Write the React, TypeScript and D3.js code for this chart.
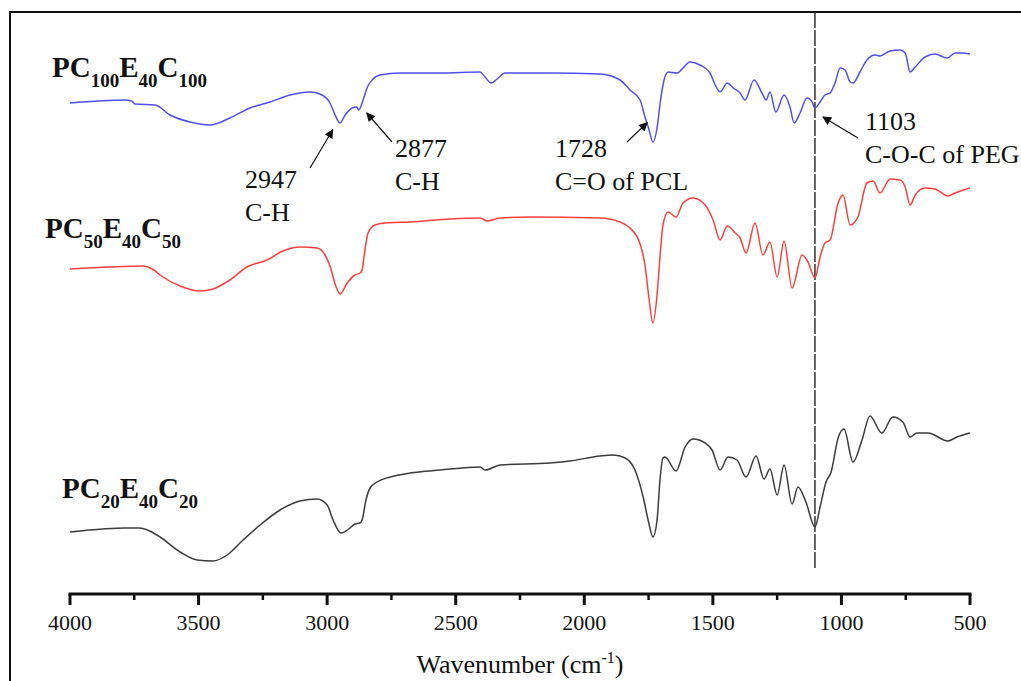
import React from "react";
import * as d3 from "d3";

// Wavenumber (cm-1) and transmittance (a.u., stacked)
const blueWn = [4000,3786,3760,3747,3669,3611,3533,3455,3378,3300,3222,3144,3067,3028,2989,2969,2950,2930,2903,2885,2877,2860,2845,2825,2794,2716,2561,2405,2386,2362,2339,2308,2133,1939,1861,1822,1783,1764,1750,1733,1717,1705,1694,1674,1639,1616,1589,1550,1511,1491,1472,1444,1421,1394,1375,1340,1309,1293,1278,1255,1223,1200,1184,1161,1134,1114,1103,1083,1064,1044,1025,1005,986,966,955,928,901,869,850,811,772,752,733,713,675,636,589,558,531,500];
const blueT = [49.7,50.0,49.9,49.6,49.5,48.5,47.8,47.5,48.2,49.2,49.8,50.5,50.8,50.6,49.7,48.5,47.7,48.5,49.2,49.3,49.0,50.0,51.2,52.0,52.5,52.7,52.7,52.8,52.3,51.7,52.1,52.7,52.7,52.6,52.0,51.0,50.0,48.3,47.2,45.8,47.2,49.7,51.5,52.8,52.7,53.2,53.8,53.5,52.7,51.5,50.8,51.7,51.2,50.7,50.0,52.0,50.7,50.0,50.8,48.8,50.5,49.3,47.7,48.7,50.2,49.8,49.2,49.8,50.5,50.7,51.7,53.2,53.0,51.8,51.7,52.8,54.0,54.5,54.4,54.9,55.0,54.7,52.8,53.3,54.3,54.6,54.2,54.7,54.7,54.6];

const redWn = [4000,3844,3716,3680,3650,3572,3494,3444,3378,3312,3234,3172,3106,3039,3008,2989,2965,2950,2922,2892,2872,2864,2853,2841,2814,2775,2678,2522,2405,2378,2327,2211,1939,1861,1822,1783,1764,1750,1733,1717,1705,1694,1674,1643,1616,1577,1530,1499,1472,1444,1413,1394,1371,1336,1305,1278,1250,1223,1192,1153,1130,1103,1083,1064,1044,1013,994,966,936,901,877,850,811,772,752,733,713,675,636,586,558,500];
const redT = [33.1,33.3,33.4,33.1,32.5,31.4,30.9,31.1,32.0,33.3,34.0,34.9,35.3,35.2,34.5,33.4,31.3,30.6,31.7,32.5,32.7,33.0,35.0,36.7,37.5,37.7,37.8,38.1,38.2,37.9,38.2,38.3,38.2,37.8,37.2,35.6,33.5,30.5,27.7,30.5,34.5,37.5,38.8,38.3,39.7,40.2,39.5,38.0,36.0,37.4,36.7,36.2,34.7,37.7,34.5,35.8,32.3,35.9,31.2,34.5,33.8,32.2,34.3,35.7,36.0,39.7,40.5,37.5,38.3,41.7,41.9,40.7,42.1,42.0,41.3,39.5,40.5,41.2,41.1,40.4,40.7,41.2];

const blackWn = [4000,3872,3786,3728,3690,3650,3572,3506,3444,3389,3327,3261,3183,3106,3039,3000,2977,2946,2911,2892,2872,2864,2849,2833,2806,2755,2678,2561,2405,2386,2327,2133,2055,1939,1888,1841,1803,1771,1750,1733,1717,1705,1694,1686,1643,1608,1577,1530,1503,1472,1441,1406,1371,1332,1301,1278,1250,1223,1192,1169,1138,1103,1083,1060,1040,1013,990,955,920,889,843,800,761,733,706,663,586,551,500];
const blackT = [6.8,7.1,7.2,7.2,6.9,6.3,4.8,4.0,3.9,4.5,6.0,7.5,9.0,9.9,10.1,9.5,8.0,6.7,7.2,7.6,7.7,8.0,10.0,11.2,11.8,12.3,12.7,13.0,13.3,13.0,13.5,13.7,13.9,14.4,14.5,14.2,13.0,10.3,7.8,6.3,8.0,12.2,14.2,14.3,12.9,15.3,16.1,15.7,15.0,13.0,14.3,14.0,12.3,14.4,12.1,13.1,10.5,13.5,9.6,11.3,9.8,7.3,9.3,11.8,12.8,16.2,17.1,13.8,16.0,18.4,16.7,18.3,17.8,16.3,16.7,16.7,15.9,16.3,16.7];

const majorTicks = [4000, 3500, 3000, 2500, 2000, 1500, 1000, 500];
const minorTicks = [3750, 3250, 2750, 2250, 1750, 1250, 750];
const markerWn = 1103;

const seriesNames = [
  { base: ["PC", "E", "C"], subs: ["100", "40", "100"] },
  { base: ["PC", "E", "C"], subs: ["50", "40", "50"] },
  { base: ["PC", "E", "C"], subs: ["20", "40", "20"] },
];

const annotations = [
  { wn: 2947, series: 0, lines: ["2947", "C-H"] },
  { wn: 2877, series: 0, lines: ["2877", "C-H"] },
  { wn: 1728, series: 0, lines: ["1728", "C=O of PCL"] },
  { wn: 1103, series: 0, lines: ["1103", "C-O-C of PEG"] },
];

const W = 1021;
const H = 681;
const FONT = "'Liberation Serif', 'Times New Roman', serif";

export default function App() {
  const x = d3.scaleLinear().domain([4000, 500]).range([70, 970]);
  const y = d3.scaleLinear().domain([0, 60]).range([600, 0]);
  const axisY = 594;

  const series = [
    { wn: blueWn, t: blueT, color: "#4f4ff5" },
    { wn: redWn, t: redT, color: "#ff3f3f" },
    { wn: blackWn, t: blackT, color: "#3c3c3c" },
  ];

  const line = d3
    .line<[number, number]>()
    .x((d) => x(d[0]))
    .y((d) => y(d[1]))
    .curve(d3.curveMonotoneX);

  const interp = (s: number, wn: number) => {
    const { wn: ws, t } = series[s];
    for (let i = 0; i < ws.length - 1; i++) {
      if (wn <= ws[i] && wn >= ws[i + 1]) {
        const f = (ws[i] - wn) / (ws[i] - ws[i + 1]);
        return t[i] + f * (t[i + 1] - t[i]);
      }
    }
    return t[0];
  };

  const annLayout = [
    { tx: 245, ty: 188, tail: [310, 168], head: [-8, 8] },
    { tx: 395, ty: 157, tail: [392, 142], head: [8, 3] },
    { tx: 555, ty: 157, tail: [627, 142], head: [-7, -15] },
    { tx: 865, ty: 130, tail: [858, 138], head: [8, 9] },
  ];

  const labelPos = [
    { x: 52, y: 77 },
    { x: 45, y: 238 },
    { x: 62, y: 498 },
  ];

  return (
    <svg
      width={W}
      height={H}
      style={{ position: "absolute", left: 0, top: 0, background: "#fff" }}
    >
      <defs>
        <marker
          id="ah"
          viewBox="0 0 10 10"
          refX="9"
          refY="5"
          markerWidth="11"
          markerHeight="9"
          markerUnits="userSpaceOnUse"
          orient="auto"
        >
          <path d="M0,0 L10,5 L0,10 Z" fill="#111" />
        </marker>
      </defs>
      <rect x={0} y={0} width={W} height={H} fill="#fff" />
      <line x1={9} y1={12} x2={W} y2={12} stroke="#111" strokeWidth={2} />
      <line x1={10} y1={12} x2={10} y2={H} stroke="#111" strokeWidth={2} />

      <line
        x1={x(markerWn)}
        x2={x(markerWn)}
        y1={12}
        y2={570}
        stroke="#222"
        strokeWidth={1.4}
        strokeDasharray="16 2"
      />

      {series.map((s, i) => (
        <path
          key={i}
          d={line(s.wn.map((w, j) => [w, s.t[j]] as [number, number])) || ""}
          fill="none"
          stroke={s.color}
          strokeWidth={1.5}
        />
      ))}

      <line x1={x(4000) - 1.5} x2={x(500) + 1.5} y1={axisY} y2={axisY} stroke="#111" strokeWidth={3} />
      {majorTicks.map((t) => (
        <g key={t}>
          <line x1={x(t)} x2={x(t)} y1={axisY} y2={axisY + 11} stroke="#111" strokeWidth={3} />
          <text x={x(t)} y={630} textAnchor="middle" fontFamily={FONT} fontSize={22} fill="#111">
            {t}
          </text>
        </g>
      ))}
      {minorTicks.map((t) => (
        <line key={t} x1={x(t)} x2={x(t)} y1={axisY} y2={axisY + 6} stroke="#111" strokeWidth={2.5} />
      ))}
      <text x={(x(4000) + x(500)) / 2} y={673} textAnchor="middle" fontFamily={FONT} fontSize={26} fill="#111">
        Wavenumber (cm
        <tspan fontSize={16} dy={-10}>-1</tspan>
        <tspan dy={10}>)</tspan>
      </text>

      {seriesNames.map((n, i) => (
        <text
          key={i}
          x={labelPos[i].x}
          y={labelPos[i].y}
          fontFamily={FONT}
          fontWeight="bold"
          fontSize={29}
          fill="#111"
        >
          {n.base.map((b, k) => (
            <React.Fragment key={k}>
              <tspan dy={k === 0 ? 0 : -10} fontSize={29}>{b}</tspan>
              <tspan dy={10} fontSize={19}>{n.subs[k]}</tspan>
            </React.Fragment>
          ))}
        </text>
      ))}

      {annotations.map((a, i) => {
        const L = annLayout[i];
        const hx = x(a.wn) + L.head[0];
        const hy = y(interp(a.series, a.wn)) + L.head[1];
        return (
          <g key={i}>
            <line
              x1={L.tail[0]}
              y1={L.tail[1]}
              x2={hx}
              y2={hy}
              stroke="#111"
              strokeWidth={1.2}
              markerEnd="url(#ah)"
            />
            {a.lines.map((t, k) => (
              <text key={k} x={L.tx} y={L.ty + k * 33} fontFamily={FONT} fontSize={26} fill="#111">
                {t}
              </text>
            ))}
          </g>
        );
      })}
    </svg>
  );
}
